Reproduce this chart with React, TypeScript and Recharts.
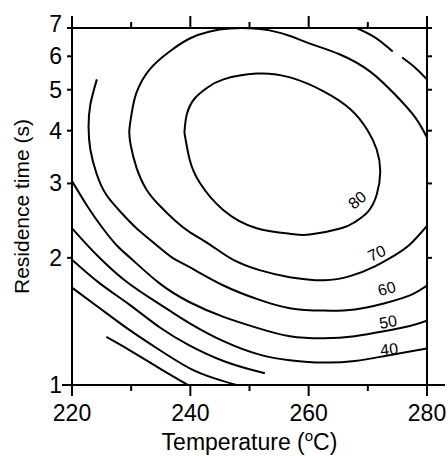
import { LineChart, Line, XAxis, YAxis, ReferenceDot } from "recharts";

// contour lines: [temperature (°C), residence time (s)]
const contour80: [number, number][] = [
  [239.0, 3.96], [239.4, 4.37], [240.7, 4.76], [242.9, 5.06], [245.6, 5.29], [251.2, 5.46],
  [257.0, 5.34], [262.6, 4.95], [267.1, 4.49], [269.9, 4.02], [271.5, 3.61], [272.1, 3.2],
  [271.5, 2.82], [270.0, 2.57], [267.8, 2.43], [265.5, 2.35], [260.2, 2.27], [256.8, 2.28],
  [251.2, 2.35], [245.5, 2.6], [241.6, 3.01], [239.9, 3.41], [239.0, 3.96],
];
const contour70: [number, number][] = [
  [280, 3.85], [278.0, 4.3], [274.6, 4.87], [270.4, 5.52], [265.3, 6.06], [260.2, 6.43],
  [257.0, 6.69], [253.4, 6.91], [250.0, 6.99], [246.7, 6.98], [243.3, 6.87], [239.9, 6.61],
  [236.5, 6.16], [233.1, 5.58], [230.9, 4.92], [230.1, 4.41], [229.7, 4.02], [229.9, 3.71],
  [230.9, 3.27], [232.6, 2.9], [234.8, 2.66], [237.4, 2.45], [239.9, 2.3], [243.3, 2.15],
  [247.2, 1.98], [251.7, 1.87], [256.8, 1.8], [262.6, 1.77], [267.0, 1.81], [271.2, 1.91],
  [274.6, 2.03], [277.1, 2.15], [280, 2.38],
];
const contour60: [number, number][] = [
  [224.2, 5.29], [223.1, 4.61], [222.8, 4.09], [223.1, 3.61], [224.2, 3.15], [225.8, 2.82],
  [228.2, 2.57], [230.9, 2.35], [234.0, 2.16], [237.0, 2.0], [239.9, 1.9], [245.6, 1.72],
  [251.7, 1.59], [256.8, 1.52], [262.6, 1.5], [267.8, 1.51], [272.7, 1.56], [277.1, 1.63],
  [280, 1.72],
];
// 60 again in the top right corner, broken where its label would sit
const contour60cornerA: [number, number][] = [[268.2, 6.99], [271.2, 6.65], [274.2, 6.16]];
const contour60cornerB: [number, number][] = [[275.8, 5.96], [278.0, 5.64], [280, 5.29]];
const contour50: [number, number][] = [
  [220, 3.04], [222.6, 2.65], [225.2, 2.35], [227.7, 2.13], [230.2, 1.98], [234.8, 1.74],
  [239.9, 1.57], [245.6, 1.45], [251.7, 1.36], [256.8, 1.305], [262.6, 1.29], [267.8, 1.305],
  [272.7, 1.34], [277.1, 1.38], [280, 1.42],
];
const contour40: [number, number][] = [
  [220, 2.35], [222.5, 2.15], [225.0, 1.98], [228.9, 1.77], [233.1, 1.61], [236.5, 1.5],
  [239.9, 1.4], [245.6, 1.27], [251.7, 1.18], [256.8, 1.145], [262.6, 1.13], [267.8, 1.14],
  [272.7, 1.17], [277.1, 1.2], [280, 1.22],
];
// unlabelled lower contours
const contour30: [number, number][] = [
  [220, 1.98], [224.7, 1.74], [229.7, 1.55], [234.8, 1.37], [239.9, 1.24], [245.6, 1.14],
  [250.0, 1.09], [252.6, 1.066],
];
const contour20: [number, number][] = [
  [220, 1.7], [224.7, 1.52], [229.7, 1.35], [234.8, 1.21], [239.9, 1.095], [244.1, 1.037], [247.8, 1.0],
];
const contour10: [number, number][] = [[225.8, 1.3], [229.7, 1.21], [234.8, 1.095], [239.6, 1.0]];

const labelValues = [80, 70, 60, 50, 40];
const labelTemps = [268.2, 271.5, 273.2, 273.4, 273.6];
const labelTimes = [2.74, 2.05, 1.69, 1.41, 1.215];

const xTicks = [220, 230, 240, 250, 260, 270, 280];
const yTicks = [1, 2, 3, 4, 5, 6, 7];

const labelAngles = [-40, -25, -15, -10, -6];
const font = "'Liberation Sans', Arial, sans-serif";
const ink = "#000";

const contours = [
  contour80, contour70, contour60, contour60cornerA, contour60cornerB,
  contour50, contour40, contour30, contour20, contour10,
].map((pts) => pts.map(([x, y]) => ({ x, y })));

const BottomTick = (props: any) => {
  const { x, y, payload } = props;
  const major = payload.value % 20 === 0;
  return (
    <g>
      <line x1={x} x2={x} y1={y} y2={y + (major ? 11 : 6)} stroke={ink} strokeWidth={2} />
      {major && (
        <text x={x} y={y + 36} textAnchor="middle" fontSize={23} fontFamily={font} fill={ink}>
          {payload.value}
        </text>
      )}
    </g>
  );
};

const TopTick = (props: any) => {
  const { x, y, payload } = props;
  const major = payload.value % 20 === 0;
  return <line x1={x} x2={x} y1={y} y2={y - (major ? 12 : 6)} stroke={ink} strokeWidth={2} />;
};

const LeftTick = (props: any) => {
  const { x, y, payload } = props;
  const major = payload.value === 1;
  // the top label sits a little higher in the original
  const lift = payload.value === 7 ? -4 : 0;
  return (
    <g>
      <line x1={x - (major ? 10 : 5)} x2={x} y1={y} y2={y} stroke={ink} strokeWidth={2} />
      <text x={x - 10} y={y + 8 + lift} textAnchor="end" fontSize={23} fontFamily={font} fill={ink}>
        {payload.value}
      </text>
    </g>
  );
};

const RightTick = (props: any) => {
  const { x, y, payload } = props;
  const major = payload.value === 1;
  return <line x1={x} x2={x + (major ? 18 : 5)} y1={y} y2={y} stroke={ink} strokeWidth={2} />;
};

const xTitle = (props: any) => {
  const { x, y, width } = props.viewBox;
  return (
    <text x={x + width / 2} y={y + 65} textAnchor="middle" fontSize={23} fontFamily={font} fill={ink}>
      Temperature (<tspan fontSize={15} dy={-9}>o</tspan>
      <tspan dy={9}>C)</tspan>
    </text>
  );
};

const yTitle = (props: any) => {
  const { y, height } = props.viewBox;
  const cx = 29;
  const cy = y + height / 2;
  return (
    <text x={cx} y={cy} transform={`rotate(-90 ${cx} ${cy})`} textAnchor="middle" fontSize={21} fontFamily={font} fill={ink}>
      Residence time (s)
    </text>
  );
};

const contourLabel = (value: number, angle: number) => (props: any) => {
  const { x, y } = props.viewBox;
  return (
    <text
      x={x}
      y={y}
      transform={`rotate(${angle} ${x} ${y})`}
      textAnchor="middle"
      dominantBaseline="central"
      fontSize={16}
      fontFamily={font}
      fill={ink}
    >
      {value}
    </text>
  );
};

export default function App() {
  return (
    <div style={{ width: 448, height: 456 }}>
      <style>{`body{margin:0}`}</style>
      <LineChart width={448} height={456} margin={{ top: 27, right: 20, bottom: 31, left: 0 }}>
        <XAxis
          xAxisId="b"
          type="number"
          dataKey="x"
          domain={[220, 280]}
          ticks={xTicks}
          interval={0}
          allowDataOverflow
          height={40}
          tickSize={0}
          tickMargin={0}
          tickLine={false}
          tick={<BottomTick />}
          axisLine={{ stroke: ink, strokeWidth: 2 }}
          label={xTitle}
        />
        <XAxis
          xAxisId="t"
          orientation="top"
          type="number"
          dataKey="x"
          domain={[220, 280]}
          ticks={xTicks}
          interval={0}
          allowDataOverflow
          height={1}
          tickSize={0}
          tickMargin={0}
          tickLine={false}
          tick={<TopTick />}
          axisLine={{ stroke: ink, strokeWidth: 2 }}
        />
        <YAxis
          yAxisId="l"
          type="number"
          scale="log"
          domain={[1, 7]}
          ticks={yTicks}
          interval={0}
          allowDataOverflow
          width={72}
          tickSize={0}
          tickMargin={0}
          tickLine={false}
          tick={<LeftTick />}
          axisLine={{ stroke: ink, strokeWidth: 2 }}
          label={yTitle}
        />
        <YAxis
          yAxisId="r"
          orientation="right"
          type="number"
          scale="log"
          domain={[1, 7]}
          ticks={yTicks}
          interval={0}
          allowDataOverflow
          width={1}
          tickSize={0}
          tickMargin={0}
          tickLine={false}
          tick={<RightTick />}
          axisLine={{ stroke: ink, strokeWidth: 2 }}
        />
        {contours.map((data, i) => (
          <Line
            key={i}
            // the closed 80 ring is drawn on the top/right axes (same scales) so they carry data too
            xAxisId={i === 0 ? "t" : "b"}
            yAxisId={i === 0 ? "r" : "l"}
            data={data}
            dataKey="y"
            type="natural"
            stroke={ink}
            strokeWidth={2}
            dot={false}
            activeDot={false}
            isAnimationActive={false}
          />
        ))}
        {labelValues.map((v, i) => (
          <ReferenceDot
            key={v}
            xAxisId="b"
            yAxisId="l"
            x={labelTemps[i]}
            y={labelTimes[i]}
            r={0}
            fill="none"
            stroke="none"
            label={contourLabel(v, labelAngles[i])}
          />
        ))}
      </LineChart>
    </div>
  );
}
